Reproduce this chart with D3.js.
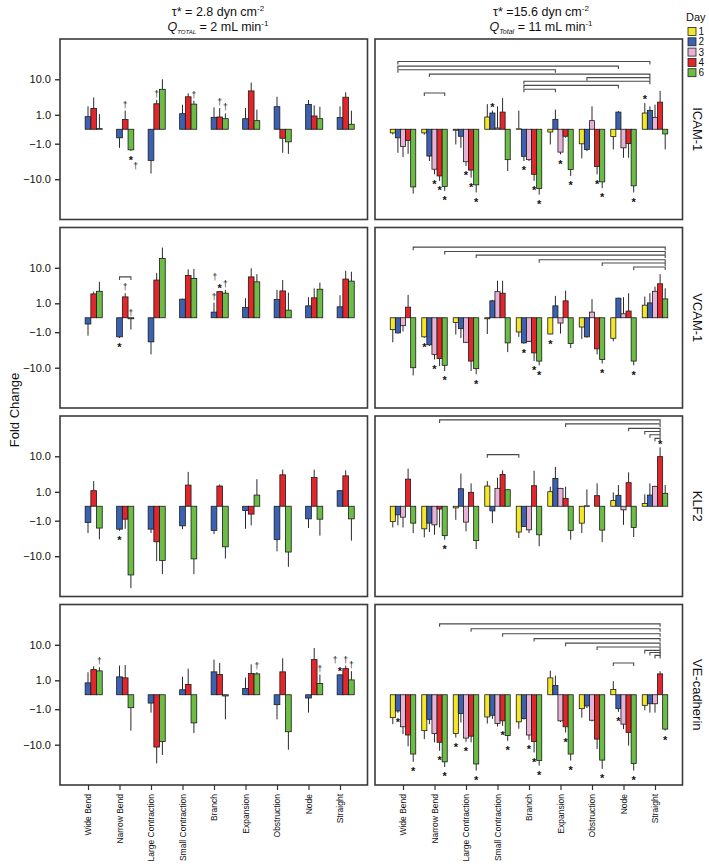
<!DOCTYPE html>
<html><head><meta charset="utf-8">
<script src="https://cdn.jsdelivr.net/npm/d3@7"></script>
<style>body{margin:0;background:#fff} svg{display:block} text{font-family:"Liberation Sans",Arial,sans-serif;fill:#111}</style>
</head><body><svg id="c" width="709" height="867"></svg>
<script>
const categories = ["Wide Bend","Narrow Bend","Large Contraction","Small Contraction","Branch","Expansion","Obstruction","Node","Straight"];
const leftDays = [2,4,6];
const rightDays = [1,2,3,4,6];
const legendDays = [1,2,3,4,6];
const dayColors = {1:"#f4e628",2:"#3b62b2",3:"#e6b3d6",4:"#e2262b",6:"#6cbd46"};
const genes = ["ICAM-1","VCAM-1","KLF2","VE-cadherin"];
const yTickValues = [10,1,-1,-10];

// ICAM-1
const icamLowMean = [[0.83,1.72,0.03],[-0.51,0.59,-1.68],[-3.45,2.4,5.8],[1.11,3.75,2.34],[0.77,0.8,0.66],[0.66,5.3,0.51],[1.95,-0.54,-0.83],[2.29,0.89,0.66],[0.75,3.65,0.27]];
const icamLowSD = [[1.17,1.88,1.04],[0.93,0.85,0.17],[3.95,0.7,4.2],[1.14,0.85,0.59],[1.08,0.96,0.48],[1.1,3.1,1.05],[1.8,1.56,1.42],[0.76,1.25,1.29],[1.25,1.25,1.17]];
const icamHighMean = [[-0.19,-0.51,-1.28,-0.71,-14.9],[-0.19,-2.62,-5.8,-8.4,-14.6],[-0.05,-0.4,-3.75,-6.1,-13.4],[0.8,1.18,0.06,1.28,-3.3],[0.02,-2.67,-3.3,-7.7,-16.2],[-0.14,0.61,-2.0,-0.4,-5.9],[-1.01,-1.64,0.51,-5.0,-11.5],[-0.42,1.28,-1.44,-0.98,-14.1],[1.18,1.47,0.77,2.67,-0.25]];
const icamHighSD = [[0.1,1.59,1.52,1.54,6.1],[0.1,0.97,1.9,2.5,3.6],[1.02,1.04,1.05,3.1,6.4],[1.54,0.26,1.94,2.17,3.1],[1.42,0.92,0.3,3.2,5.8],[0.93,0.95,0.34,0.1,2.5],[2.04,0.21,1.49,2.7,4.4],[1.22,0.1,1.49,1.95,5.7],[1.32,0.53,1.48,2.63,1.39]];
// VCAM-1
const vcamLowMean = [[-0.35,2.14,2.56],[-1.5,1.72,-0.05],[-2.18,5.1,16.2],[1.44,6.6,5.6],[0.31,2.5,2.25],[0.64,6.1,4.6],[1.39,2.62,0.44],[0.77,1.6,2.93],[0.69,5.4,4.8]];
const vcamLowSD = [[1.01,0.36,2.04],[0.14,0.53,0.72],[2.62,2.5,11.8],[0.06,2.6,3.8],[0.76,0.06,0.55],[0.92,3.6,2.5],[1.41,2.48,1.9],[0.91,1.5,1.47],[1.26,3.1,3.3]];
const vcamHighMean = [[-0.77,-1.07,-0.46,0.66,-10.0],[-1.5,-2.67,-4.8,-6.1,-8.8],[-0.25,-0.69,-2.25,-7.0,-10.5],[-0.05,1.25,2.5,2.25,-2.34],[-0.98,-2.34,-2.1,-4.4,-7.0],[-1.18,0.77,-0.29,1.25,-2.45],[-0.56,-1.5,0.31,-3.45,-6.4],[-1.68,1.56,0.21,0.38,-7.0],[0.83,1.04,2.56,4.1,1.47]];
const vcamHighSD = [[1.48,0.05,0.46,1.34,4.9],[0.14,0.2,1.6,3.1,3.1],[1.0,0.95,0.1,4.9,3.6],[1.13,0.11,2.4,2.65,1.86],[0.52,0.15,0.1,2.6,1.8],[0.05,1.08,0.85,1.42,0.8],[1.2,0.1,1.13,1.35,1.6],[0.42,0.05,1.47,1.87,1.8],[0.93,1.21,0.89,3.0,1.63]];
// KLF2
const klfLowMean = [[-1.18,1.11,-1.85],[-2.0,-0.86,-26],[-2.0,-4.5,-12.5],[-1.56,1.76,-11.5],[-2.18,1.64,-6.0],[-0.23,-0.46,0.71],[-3.9,3.52,-8.0],[-0.83,2.98,-0.86],[1.11,3.3,-0.83]];
const klfLowSD = [[1.44,1.23,2.05],[0.25,1.09,24],[0.62,8.5,12.5],[0.44,2.44,13.5],[0.62,0.21,5.3],[1.72,1.04,1.96],[3.8,1.28,9.3],[1.02,1.82,2.24],[0.07,1.3,3.37]];
const klfHighMean = [[-1.07,-0.51,-0.69,2.67,-1.25],[-1.95,-1.25,-1.44,-0.14,-3.1],[-0.08,1.32,-1.14,0.95,-4.2],[1.64,-0.25,1.36,3.59,1.21],[-2.45,-1.64,-2.1,1.68,-2.93],[1.01,2.8,1.36,0.46,-2.18],[-1.25,0.02,0,0.66,-2.14],[0.31,0.69,-0.19,2.1,-1.76],[0.14,0.71,1.6,9.8,0.86]];
const klfHighSD = [[0.69,0.99,1.07,2.43,1.37],[1.5,1.2,1.49,1.62,0.88],[0.84,2.48,1.2,1.05,2.6],[0.7,1.0,1.57,1.01,0.05],[1.14,0.05,0.52,2.82,2.87],[0.55,2.8,0.05,1.1,1.8],[1.37,1.23,0,1.34,2.46],[0.64,1.07,1.25,2.0,1.62],[0.63,1.29,0.08,6.1,0.9]];
// VE-cadherin
const veLowMean = [[0.77,2.34,2.14],[1.36,1.25,-0.86],[-0.49,-11.3,-8.4],[0.27,0.64,-2.86],[2.0,1.64,-0.06],[0.35,1.76,1.72],[-0.61,2.0,-4.9],[-0.17,4.4,0.71],[1.6,2.5,1.04]];
const veLowSD = [[1.18,0.59,0.6],[1.69,1.92,3.74],[0.87,14.7,8.6],[1.09,1.86,2.44],[2.4,1.95,2.19],[0.93,1.54,0.23],[1.64,2.75,8.1],[1.19,4.0,0.93],[0.05,0.55,1.06]];
const veHighMean = [[-2.0,-1.18,-3.65,-5.9,-16.2],[-4.6,-2.25,-5.4,-8.8,-24],[-5.4,-1.47,-7.0,-6.3,-26.7],[-1.9,-1.68,-2.98,-2.5,-6.1],[-2.67,-2.14,-5.9,-8.4,-22.5],[1.25,0.56,-2.5,-3.65,-16.2],[-0.95,-0.71,-2.4,-7.4,-22],[0.29,-0.95,-3.1,-5.1,-26],[-0.66,-0.54,-0.54,1.72,-4.2]];
const veHighSD = [[1.1,0.2,1.95,5.0,7.8],[2.8,0.85,3.4,4.9,7],[1.4,1.33,1.5,2.5,10.3],[1.08,0.5,0.61,0.95,2.0],[1.43,0.16,1.8,6.5,6.4],[0.93,0.94,0.2,1.45,6.3],[1.05,0.19,0.2,5.1,12],[0.63,0.33,1.1,5.4,11],[0.45,0.82,0.82,0.38,0.4]];

// significance marks: [category, day, symbols (from bar outward), side override, nudge of 2nd symbol]
const icamLowMarks = [["Narrow Bend",4,"†"],["Narrow Bend",6,"*†"],["Large Contraction",4,"†"],["Small Contraction",6,"†"],["Branch",4,"†"],["Branch",6,"†"]];
const icamHighMarks = [["Narrow Bend",3,"*"],["Narrow Bend",4,"*"],["Narrow Bend",6,"*"],["Large Contraction",3,"*"],["Large Contraction",4,"*"],["Large Contraction",6,"*"],["Small Contraction",2,"*"],["Branch",2,"*"],["Branch",4,"*"],["Branch",6,"*"],["Expansion",3,"*"],["Expansion",6,"*"],["Obstruction",4,"*"],["Obstruction",6,"*"],["Node",6,"*"],["Straight",1,"*"]];
const vcamLowMarks = [["Narrow Bend",2,"*"],["Narrow Bend",4,"†"],["Narrow Bend",6,"†",1],["Branch",2,"†"],["Branch",4,"*†",undefined,-4.8],["Branch",6,"†"]];
const vcamHighMarks = [["Narrow Bend",1,"*"],["Narrow Bend",3,"*"],["Narrow Bend",6,"*"],["Large Contraction",6,"*"],["Branch",2,"*"],["Branch",4,"*"],["Branch",6,"*"],["Expansion",1,"*"],["Obstruction",6,"*"],["Node",6,"*"]];
const klfLowMarks = [["Narrow Bend",2,"*"]];
const klfHighMarks = [["Narrow Bend",6,"*"],["Straight",4,"*"]];
const veLowMarks = [["Wide Bend",6,"†"],["Expansion",6,"†"],["Node",6,"†"],["Straight",2,"*†",undefined,-4.8],["Straight",4,"†"],["Straight",6,"†"]];
const veHighMarks = [["Wide Bend",2,"*"],["Wide Bend",6,"*"],["Narrow Bend",4,"*"],["Narrow Bend",6,"*"],["Large Contraction",1,"*"],["Large Contraction",3,"*"],["Large Contraction",6,"*"],["Small Contraction",4,"*"],["Small Contraction",6,"*"],["Branch",3,"*"],["Branch",4,"*"],["Branch",6,"*"],["Expansion",4,"*"],["Expansion",6,"*"],["Obstruction",6,"*"],["Node",2,"*"],["Node",6,"*"],["Straight",6,"*"]];

// comparison brackets: [fromCategory, fromDay, toCategory, toDay, level (fold change)]
const icamHighBrackets = [["Wide Bend",2,"Straight",2,24.9],["Wide Bend",2,"Node",2,19.7],["Wide Bend",2,"Expansion",2,16.4],["Narrow Bend",2,"Straight",2,13.1],["Obstruction",2,"Straight",2,10.9],["Branch",2,"Straight",2,9.0],["Branch",2,"Node",2,7.2],["Branch",2,"Expansion",2,5.8],["Narrow Bend",1,"Narrow Bend",6,4.7]];
const vcamLowBrackets = [["Narrow Bend",2,"Narrow Bend",6,6.1]];
const vcamHighBrackets = [["Wide Bend",6,"Straight",6,28.6],["Narrow Bend",6,"Straight",6,23.1],["Large Contraction",6,"Straight",6,19.2],["Branch",6,"Straight",6,15.2],["Obstruction",6,"Straight",6,12.8],["Node",6,"Straight",6,10.4]];
const klfHighBrackets = [["Narrow Bend",4,"Straight",4,62],["Expansion",4,"Straight",4,51],["Node",4,"Straight",4,41],["Straight",1,"Straight",4,35],["Straight",2,"Straight",4,30],["Straight",3,"Straight",4,25],["Small Contraction",1,"Branch",1,10.9]];
const veHighBrackets = [["Narrow Bend",4,"Straight",4,29],["Large Contraction",4,"Straight",4,22.8],["Small Contraction",4,"Straight",4,17.7],["Branch",4,"Straight",4,13.8],["Expansion",4,"Straight",4,10.9],["Obstruction",4,"Straight",4,8.9],["Straight",1,"Straight",4,7.4],["Straight",2,"Straight",4,6.6],["Straight",3,"Straight",4,5.6],["Node",1,"Node",6,3.6]];

const panels = [
  {row:0, side:"low",  mean:icamLowMean, sd:icamLowSD, marks:icamLowMarks, brackets:[]},
  {row:0, side:"high", mean:icamHighMean, sd:icamHighSD, marks:icamHighMarks, brackets:icamHighBrackets},
  {row:1, side:"low",  mean:vcamLowMean, sd:vcamLowSD, marks:vcamLowMarks, brackets:vcamLowBrackets},
  {row:1, side:"high", mean:vcamHighMean, sd:vcamHighSD, marks:vcamHighMarks, brackets:vcamHighBrackets},
  {row:2, side:"low",  mean:klfLowMean, sd:klfLowSD, marks:klfLowMarks, brackets:[]},
  {row:2, side:"high", mean:klfHighMean, sd:klfHighSD, marks:klfHighMarks, brackets:klfHighBrackets},
  {row:3, side:"low",  mean:veLowMean, sd:veLowSD, marks:veLowMarks, brackets:[]},
  {row:3, side:"high", mean:veHighMean, sd:veHighSD, marks:veHighMarks, brackets:veHighBrackets}
];

const svg = d3.select("#c");
const panelX = {low:60, high:375};
const panelW = 307.5, panelH = 180.5;
const rowTop = [39, 227.5, 416, 604.5];

const x = d3.scalePoint().domain(categories).range([28, panelW - 27.5]);
const y = d3.scaleSymlog().constant(1).domain([-75, 75]).range([panelH, 0]);
const layout = {
  low:  {days:leftDays,  bw:5.7, start:-2.85},
  high: {days:rightDays, bw:5.1, start:-12.75}
};
function barX(side, cat, day){
  const L = layout[side];
  return x(cat) + L.start + L.days.indexOf(day) * L.bw;
}
function barC(side, cat, day){ return barX(side, cat, day) + layout[side].bw/2; }

panels.forEach(p => {
  const L = layout[p.side];
  const g = svg.append("g").attr("transform", `translate(${panelX[p.side]},${rowTop[p.row]})`);
  g.append("rect").attr("width", panelW).attr("height", panelH)
    .attr("fill", "none").attr("stroke", "#3a3a3a").attr("stroke-width", 1.6);

  const recs = [];
  categories.forEach((cat, ci) => {
    L.days.forEach((day, di) => {
      const v = p.mean[ci][di], s = p.sd[ci][di];
      const sign = v < 0 ? -1 : 1;
      recs.push({cat, day, v, end: v + sign * s});
    });
  });
  const find = (cat, day) => recs.find(r => r.cat === cat && r.day === day);

  // error bars
  g.selectAll("line.err").data(recs.filter(r => r.end !== r.v)).join("line")
    .attr("class", "err")
    .attr("x1", r => barC(p.side, r.cat, r.day)).attr("x2", r => barC(p.side, r.cat, r.day))
    .attr("y1", r => y(r.v)).attr("y2", r => y(r.end))
    .attr("stroke", "#2a2a2a").attr("stroke-width", 1);

  // bars
  g.selectAll("rect.bar").data(recs).join("rect")
    .attr("class", "bar")
    .attr("x", r => barX(p.side, r.cat, r.day))
    .attr("width", L.bw)
    .attr("y", r => Math.min(y(r.v), y(0)))
    .attr("height", r => Math.abs(y(r.v) - y(0)))
    .attr("fill", r => dayColors[r.day])
    .attr("stroke", "#1a1a1a").attr("stroke-width", 0.8);

  // significance marks (second stacked symbol nudged sideways so glyphs stay clear)
  p.marks.forEach(m => {
    const r = find(m[0], m[1]);
    const side = m[3] !== undefined ? m[3] : (r.v < 0 ? -1 : 1);
    const nudge = m[4] !== undefined ? m[4] : 4.8;
    const base = side > 0 ? y(Math.max(r.end, r.v)) : y(Math.min(r.end, r.v));
    const cx = barC(p.side, m[0], m[1]);
    [...m[2]].forEach((sym, k) => {
      const d = (sym === "*" ? 6.5 : 6) + k * 8.5;
      g.append("text")
        .attr("x", cx + (k > 0 ? nudge : 0))
        .attr("y", base - side * d + (sym === "*" ? 6.8 : 3))
        .attr("text-anchor", "middle")
        .attr("font-size", sym === "*" ? 11 : 8.5)
        .attr("font-weight", sym === "*" ? "bold" : "normal")
        .attr("fill", "#111")
        .text(sym);
    });
  });

  // brackets
  p.brackets.forEach(b => {
    const x1 = barC(p.side, b[0], b[1]), x2 = barC(p.side, b[2], b[3]);
    const yy = y(b[4]);
    g.append("path")
      .attr("d", `M${x1},${yy + 3}V${yy}H${x2}V${yy + 3}`)
      .attr("fill", "none").attr("stroke", "#4a4a4a").attr("stroke-width", 1.1);
  });

  // y axis on left panels
  if (p.side === "low") {
    const ax = g.append("g").call(d3.axisLeft(y).tickValues(yTickValues)
      .tickFormat(d3.format(".1f")).tickSize(5).tickPadding(4));
    ax.select(".domain").remove();
    ax.selectAll("line").attr("stroke", "#333").attr("stroke-width", 1.4);
    ax.selectAll("text").attr("font-size", 11).attr("fill", "#111")
      .attr("font-family", "Liberation Sans, Arial, sans-serif");
  } else {
    g.append("text")
      .attr("transform", `translate(${panelW + 15},${y(0)}) rotate(90)`)
      .attr("text-anchor", "middle").attr("dy", "0.35em")
      .attr("font-size", 13).text(genes[p.row]);
  }

  // x axis on bottom row
  if (p.row === 3) {
    const ax = g.append("g").attr("transform", `translate(0,${panelH})`)
      .call(d3.axisBottom(x).tickSize(5).tickPadding(3));
    ax.select(".domain").remove();
    ax.selectAll("line").attr("stroke", "#333").attr("stroke-width", 1.2);
    ax.selectAll("text")
      .attr("font-size", 8.5).attr("fill", "#111")
      .attr("font-family", "Liberation Sans, Arial, sans-serif")
      .attr("transform", "rotate(-90)")
      .attr("text-anchor", "end")
      .attr("x", -9).attr("y", 0).attr("dy", "0.35em");
  }
});

// Fold Change label
svg.append("text").attr("transform", "translate(14,410) rotate(-90)")
  .attr("text-anchor", "middle").attr("dy", "0.35em").attr("font-size", 13).text("Fold Change");

// Titles
function title(cx, l1a, sub, l2a, smallcaps) {
  const t1 = svg.append("text").attr("x", cx).attr("y", 16).attr("text-anchor", "middle").attr("font-size", 12.5);
  t1.append("tspan").text(l1a);
  t1.append("tspan").attr("dy", -5).attr("font-size", 8).text("-2");
  const t2 = svg.append("text").attr("x", cx).attr("y", 31).attr("text-anchor", "middle").attr("font-size", 12.5);
  t2.append("tspan").attr("font-style", "italic").text("Q");
  t2.append("tspan").attr("dy", 3).attr("font-size", smallcaps ? 6 : 7).attr("font-style", "italic").text(sub);
  t2.append("tspan").attr("dy", -3).text(l2a);
  t2.append("tspan").attr("dy", -5).attr("font-size", 8).text("-1");
}
title(218, "τ* = 2.8 dyn cm", "TOTAL", " = 2 mL min", true);
title(541, "τ* =15.6 dyn cm", "Total", " = 11 mL min", false);

// Legend
svg.append("text").attr("x", 686).attr("y", 21).attr("font-size", 11).text("Day");
const lg = svg.selectAll("g.lg").data(legendDays).join("g").attr("class", "lg")
  .attr("transform", (d, i) => `translate(688,${27.5 + i * 10.3})`);
lg.append("rect").attr("width", 8).attr("height", 8)
  .attr("fill", d => dayColors[d]).attr("stroke", "#222").attr("stroke-width", 0.8);
lg.append("text").attr("x", 10.5).attr("y", 4).attr("dy", "0.35em").attr("font-size", 10).text(d => d);
</script></body></html>
